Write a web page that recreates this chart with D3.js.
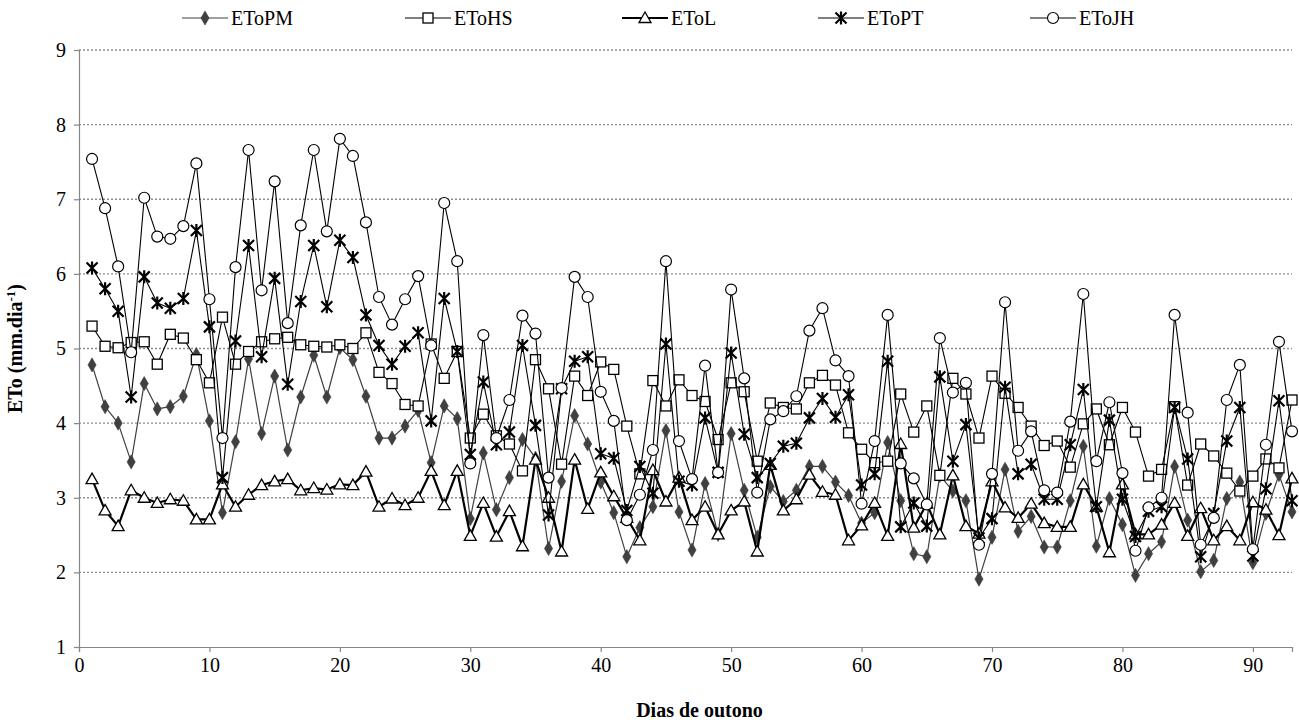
<!DOCTYPE html>
<html>
<head>
<meta charset="utf-8">
<script src="https://cdn.jsdelivr.net/npm/d3@7/dist/d3.min.js"></script>
<style>
  body { margin: 0; background: #fff; }
  svg { display: block; }
  text { font-family: "Liberation Serif", "Times New Roman", serif; fill: #000; }
</style>
</head>
<body>
<svg id="chart" width="1299" height="724"></svg>
<script>
// Daily reference evapotranspiration (mm/day) over the autumn days
const days = d3.range(1, 94);

const etoPM = [4.78,4.22,4.00,3.48,4.53,4.19,4.22,4.36,4.92,4.03,2.80,3.75,4.86,3.86,4.63,3.64,4.35,4.91,4.35,5.01,
  4.85,4.36,3.80,3.80,3.96,4.17,3.47,4.23,4.06,2.72,3.60,2.84,3.27,3.78,3.53,2.32,3.22,4.10,3.72,3.21,
  2.80,2.21,2.60,2.88,3.90,2.81,2.30,3.19,2.51,3.86,3.10,2.47,3.15,2.95,3.10,3.42,3.42,3.21,3.03,2.66,
  2.80,3.74,2.96,2.25,2.21,3.30,3.09,2.96,1.91,2.47,3.38,2.55,2.75,2.34,2.34,2.96,3.69,2.35,2.99,2.64,
  1.96,2.25,2.41,3.42,2.70,2.01,2.16,2.99,3.21,2.13,2.79,3.31,2.81];

const etoHS = [5.30,5.03,5.01,5.08,5.09,4.79,5.19,5.14,4.85,4.54,5.42,4.79,4.96,5.09,5.13,5.15,5.05,5.03,5.02,5.05,
  5.00,5.21,4.68,4.53,4.25,4.23,5.06,4.60,4.96,3.80,4.12,3.83,3.72,3.36,4.85,4.46,3.45,4.63,4.37,4.82,
  4.72,3.96,3.32,4.57,4.23,4.58,4.37,4.29,3.78,4.54,4.42,3.49,4.27,4.21,4.19,4.54,4.64,4.51,3.87,3.65,
  3.47,3.49,4.39,3.88,4.23,3.30,4.60,4.39,3.80,4.63,4.40,4.21,3.96,3.70,3.76,3.41,3.99,4.19,3.71,4.21,
  3.88,3.29,3.38,4.22,3.17,3.72,3.56,3.33,3.09,3.29,3.52,3.40,4.31];

const etoL = [3.25,2.83,2.62,3.10,3.00,2.93,2.98,2.96,2.71,2.71,3.18,2.88,3.04,3.17,3.22,3.25,3.10,3.13,3.11,3.18,
  3.17,3.35,2.88,2.99,2.90,3.00,3.36,2.90,3.36,2.49,2.93,2.48,2.82,2.35,3.51,3.00,2.28,3.51,2.85,3.34,
  3.02,2.73,2.43,3.37,2.95,3.27,2.70,2.88,2.51,2.83,2.95,2.28,3.44,2.83,2.98,3.31,3.08,3.04,2.43,2.63,
  2.93,2.49,3.72,2.60,2.92,2.51,3.30,2.62,2.52,3.22,2.87,2.73,2.92,2.66,2.61,2.61,3.18,2.88,2.27,3.18,
  2.51,2.51,2.64,2.93,2.49,2.86,2.43,2.62,2.43,2.94,2.84,2.50,3.26];

const etoPT = [6.08,5.80,5.50,4.35,5.96,5.61,5.54,5.67,6.58,5.29,3.27,5.10,6.38,4.89,5.94,4.52,5.63,6.38,5.56,6.45,
  6.22,5.45,5.04,4.79,5.03,5.21,4.03,5.67,4.96,3.58,4.55,3.71,3.88,5.04,3.97,2.77,4.46,4.83,4.89,3.59,
  3.53,2.83,3.42,3.06,5.06,3.22,3.17,4.07,3.34,4.94,3.85,3.27,3.46,3.69,3.73,4.07,4.33,4.08,4.38,3.17,
  3.32,4.83,2.61,2.93,2.62,4.62,3.49,3.98,2.46,2.72,4.48,3.32,3.45,2.98,2.98,3.71,4.45,2.88,4.04,2.98,
  2.48,2.82,2.88,4.21,3.52,2.21,2.79,3.76,4.21,2.22,3.12,4.30,2.96];

const etoJH = [7.54,6.88,6.10,4.95,7.02,6.50,6.47,6.64,7.48,5.66,3.80,6.09,7.66,5.78,7.24,5.34,6.65,7.66,6.57,7.81,
  7.58,6.69,5.69,5.32,5.66,5.97,5.04,6.95,6.17,3.46,5.18,3.80,4.31,5.44,5.20,3.27,4.47,5.96,5.69,4.42,
  4.03,2.70,3.04,3.64,6.17,3.76,3.25,4.77,3.34,5.79,4.60,3.07,4.05,4.16,4.36,5.24,5.54,4.84,4.63,2.92,
  3.76,5.45,3.46,3.26,2.91,5.14,4.41,4.54,2.37,3.32,5.62,3.63,3.89,3.10,3.07,4.02,5.73,3.49,4.28,3.33,
  2.29,2.87,3.00,5.45,4.14,2.37,2.73,4.31,4.78,2.31,3.71,5.09,3.89];

const seriesNames = ["EToPM", "EToHS", "EToL", "EToPT", "EToJH"];
const seriesValues = [etoPM, etoHS, etoL, etoPT, etoJH];
const xTicks = [0, 10, 20, 30, 40, 50, 60, 70, 80, 90];
const yTicks = [1, 2, 3, 4, 5, 6, 7, 8, 9];
const xTitle = "Dias de outono";

// drawing styles per series
const styles = {
  EToPM: { stroke: "#404040", width: 1.2, marker: "diamond", fill: "#404040" },
  EToHS: { stroke: "#000", width: 1.1, marker: "square", fill: "#fff" },
  EToL:  { stroke: "#000", width: 2.2, marker: "triangle", fill: "#fff" },
  EToPT: { stroke: "#000", width: 1.1, marker: "star", fill: "none" },
  EToJH: { stroke: "#000", width: 1.1, marker: "circle", fill: "#fff" }
};

const svg = d3.select("#chart");
const plot = { left: 79, right: 1292, top: 50, bottom: 647 };

const x = d3.scaleLinear().domain([0, 93]).range([plot.left, plot.right]);
const y = d3.scaleLinear().domain([1, 9]).range([plot.bottom, plot.top]);

// horizontal dotted gridlines
svg.append("g")
  .selectAll("line")
  .data(yTicks.filter(t => t > 1))
  .join("line")
  .attr("x1", plot.left).attr("x2", plot.right)
  .attr("y1", d => y(d)).attr("y2", d => y(d))
  .attr("stroke", "#8c8c8c")
  .attr("stroke-width", 1.3)
  .attr("stroke-dasharray", "2,2");

// axes
const xAxis = d3.axisBottom(x).tickValues(xTicks).tickSize(5).tickPadding(6).tickFormat(d3.format("d"));
const yAxis = d3.axisLeft(y).tickValues(yTicks).tickSize(5).tickPadding(8).tickFormat(d3.format("d"));

const gx = svg.append("g").attr("transform", `translate(0,${plot.bottom})`).call(xAxis);
const gy = svg.append("g").attr("transform", `translate(${plot.left},0)`).call(yAxis);
[gx, gy].forEach(g => {
  g.select(".domain").attr("stroke", "#868686").attr("stroke-width", 1.2);
  g.selectAll(".tick line").attr("stroke", "#868686").attr("stroke-width", 1.2);
  g.selectAll(".tick text").attr("font-size", 20).attr("font-family", "Liberation Serif, serif").attr("fill", "#000");
});

// axis titles
svg.append("text")
  .attr("x", (plot.left + plot.right) / 2 + 14)
  .attr("y", 717)
  .attr("text-anchor", "middle")
  .attr("font-size", 20)
  .attr("font-weight", "bold")
  .text(xTitle);

const yt = svg.append("text")
  .attr("transform", `translate(22,${(plot.top + plot.bottom) / 2}) rotate(-90)`)
  .attr("text-anchor", "middle")
  .attr("font-size", 20)
  .attr("font-weight", "bold");
yt.append("tspan").text("ETo (mm.dia");
yt.append("tspan").attr("baseline-shift", "super").attr("font-size", 13).text("-1");
yt.append("tspan").text(")");

// marker shapes
function drawMarker(g, kind, st) {
  if (kind === "diamond") {
    g.append("path").attr("d", d3.symbol(d3.symbolDiamond, 58)())
      .attr("fill", st.fill).attr("stroke", st.stroke).attr("stroke-width", 0.6);
  } else if (kind === "square") {
    g.append("rect").attr("x", -5).attr("y", -5).attr("width", 10).attr("height", 10)
      .attr("fill", st.fill).attr("stroke", "#000").attr("stroke-width", 1.3);
  } else if (kind === "triangle") {
    g.append("path").attr("d", "M0,-6L6,4.5L-6,4.5Z")
      .attr("fill", st.fill).attr("stroke", "#000").attr("stroke-width", 1.3);
  } else if (kind === "circle") {
    g.append("circle").attr("r", 5.5)
      .attr("fill", st.fill).attr("stroke", "#000").attr("stroke-width", 1.2);
  } else if (kind === "star") {
    g.append("path").attr("d", "M-5.5,-5.5L5.5,5.5M-5.5,5.5L5.5,-5.5M0,-6.5L0,6.5")
      .attr("fill", "none").attr("stroke", "#000").attr("stroke-width", 2.2);
  }
}

const line = d3.line().x(d => x(d.day)).y(d => y(d.v));

seriesNames.forEach((name, i) => {
  const st = styles[name];
  const pts = days.map((day, j) => ({ day, v: seriesValues[i][j] }));
  const g = svg.append("g").attr("class", "series " + name);
  g.append("path")
    .datum(pts)
    .attr("d", line)
    .attr("fill", "none")
    .attr("stroke", st.stroke)
    .attr("stroke-width", st.width)
    .attr("stroke-linejoin", "round");
  g.selectAll("g.pt")
    .data(pts)
    .join("g")
    .attr("class", "pt")
    .attr("transform", d => `translate(${x(d.day)},${y(d.v)})`)
    .each(function () { drawMarker(d3.select(this), st.marker, st); });
});

// legend
const legendX = [182, 405, 622, 818, 1030];
const legend = svg.append("g");
seriesNames.forEach((name, i) => {
  const st = styles[name];
  const lg = legend.append("g").attr("transform", `translate(${legendX[i]},18)`);
  lg.append("line").attr("x1", 0).attr("x2", 46).attr("y1", 0).attr("y2", 0)
    .attr("stroke", st.stroke).attr("stroke-width", st.width);
  drawMarker(lg.append("g").attr("transform", "translate(23,0)"), st.marker, st);
  lg.append("text").attr("x", 49).attr("y", 7).attr("font-size", 20).text(name);
});
</script>
</body>
</html>
